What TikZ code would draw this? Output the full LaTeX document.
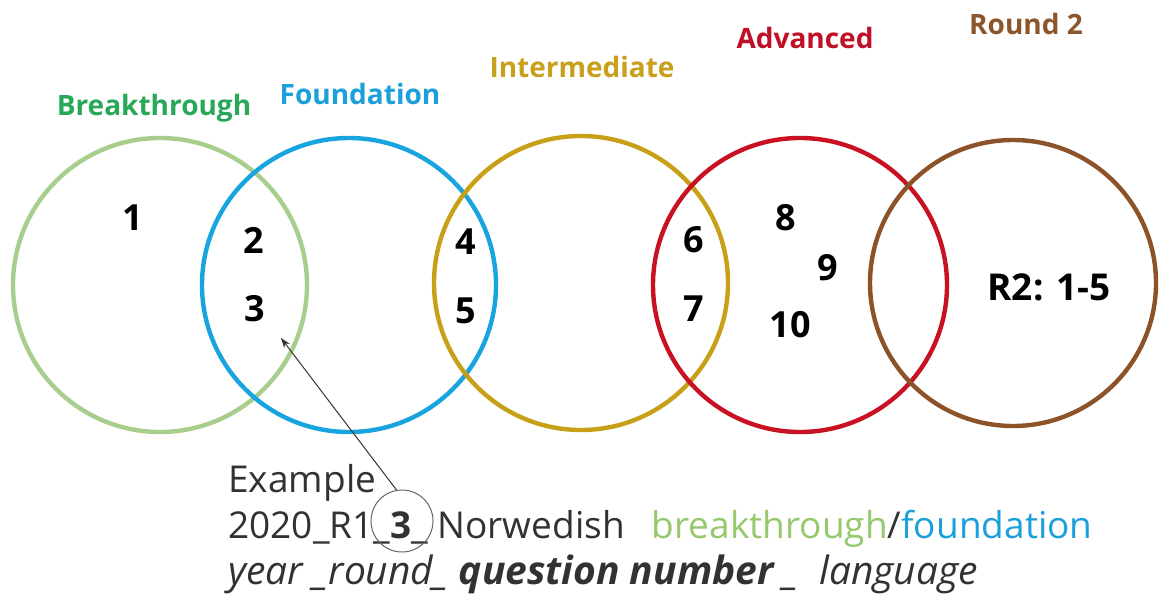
\documentclass[tikz,border=0pt]{standalone}
\usepackage{fontspec}
\setmainfont{Open Sans}
\usetikzlibrary{arrows.meta}
\definecolor{ringgreen}{RGB}{168,206,142}
\definecolor{ringblue}{RGB}{24,164,222}
\definecolor{ringgold}{RGB}{200,160,24}
\definecolor{ringred}{RGB}{200,18,34}
\definecolor{ringbrown}{RGB}{140,82,40}
\definecolor{labgreen}{RGB}{40,168,88}
\definecolor{labblue}{RGB}{28,160,220}
\definecolor{labgold}{RGB}{200,160,30}
\definecolor{labred}{RGB}{192,16,40}
\definecolor{labbrown}{RGB}{140,86,44}
\definecolor{txtgray}{RGB}{50,50,50}
\definecolor{wordgreen}{RGB}{150,200,110}
\tikzset{
  ring/.style={circle, draw, line width=2.2pt, minimum size=147pt, inner sep=0pt},
  setlabel/.style={font=\fontsize{14}{16}\selectfont\bfseries},
  num/.style={font=\fontsize{18}{20}\selectfont\bfseries, text=black},
  exline/.style={anchor=base west, inner sep=0pt, text=txtgray, font=\fontsize{18.5}{20}\selectfont},
}
\begin{document}
\begin{tikzpicture}[x=0.5pt,y=-0.5pt]
\useasboundingbox (0,0) rectangle (1160,594);
\fill[white] (0,0) rectangle (1160,594);
% rings
\node[ring, draw=ringgreen] (bt) at (160,285) {};
\node[ring, draw=ringblue]  (fd) at (349,285) {};
\node[ring, draw=ringgold]  (im) at (581,283) {};
\node[ring, draw=ringred]   (ad) at (800,285) {};
\node[ring, draw=ringbrown, minimum size=143pt] (r2) at (1013,283) {};
% set labels
\node[setlabel, text=labgreen] (lbt) at (154,108) {Breakthrough};
\node[setlabel, text=labblue]  (lfd) at (360,94)  {Foundation};
\node[setlabel, text=labgold]  (lim) at (582,67)  {Intermediate};
\node[setlabel, text=labred]   (lad) at (805,38)  {Advanced};
\node[setlabel, text=labbrown] (lr2) at (1026,24) {Round 2};
% numbers
\node[num] (n1) at (133,218) {1};
\node[num] (n2) at (254,240) {2};
\node[num] (n3) at (255,309) {3};
\node[num] (n4) at (466,242) {4};
\node[num] (n5) at (466,311) {5};
\node[num] (n6) at (694,240) {6};
\node[num] (n7) at (694,309) {7};
\node[num] (n8) at (786,218) {8};
\node[num] (n9) at (828,268) {9};
\node[num] (n10) at (790,325) {10};
\node[num, font=\fontsize{18.5}{20}\selectfont\bfseries] (nr2) at (1049,287) {R2: 1-5};
% example text
\node[exline] (ex1) at (228,492) {Example};
\node[exline] (ex2) at (228,538) {2020\_R1\_\textbf{3}\_ Norwedish\hspace{13.5pt}\textcolor{wordgreen}{breakthrough}/\textcolor{labblue}{foundation}};
\node[exline, font=\fontsize{19.5}{20}\selectfont\itshape] (ex3) at (228,584) {year \_round\_\ \textbf{question number} \_\ \ language};
% circled marker and arrow
\node[circle, draw=gray!80!black, line width=0.5pt, minimum size=31pt, inner sep=0pt] (c3) at (402,521) {};
\coordinate (tip) at (281,338);
\draw[line width=0.5pt, draw=black!80, -{Stealth[length=5pt,width=3.5pt]}] (c3.100) -- (tip);
\end{tikzpicture}
\end{document}
